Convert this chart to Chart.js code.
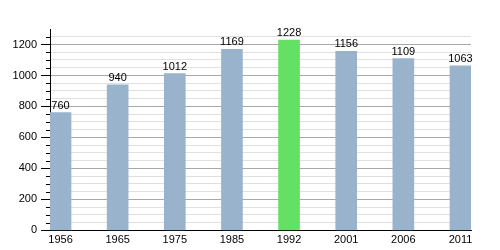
<!DOCTYPE html>
<html lang="en">
<head>
    <meta charset="UTF-8">
    <title>Population</title>
    <script src="https://cdn.jsdelivr.net/npm/chart.js"></script>
    <style>
        body { margin: 0; background: #fff; }
        .wrap { width: 500px; height: 250px; }
    </style>
</head>
<body>
    <div class="wrap"><canvas id="chart"></canvas></div>
    <script>
        const years = ['1956', '1965', '1975', '1985', '1992', '2001', '2006', '2011'];
        const population = [760, 940, 1012, 1169, 1228, 1156, 1109, 1063];
        const highlightYear = '1992';

        const barColor = '#9ab3cd';
        const highlightColor = '#64e064';

        // value labels on top of each bar
        const valueLabels = {
            id: 'valueLabels',
            afterDatasetsDraw(chart) {
                const ctx = chart.ctx;
                const meta = chart.getDatasetMeta(0);
                ctx.save();
                ctx.font = '11px "Liberation Sans", Arial, sans-serif';
                ctx.fillStyle = '#000';
                ctx.textAlign = 'center';
                ctx.textBaseline = 'alphabetic';
                meta.data.forEach((bar, i) => {
                    ctx.fillText(population[i], bar.x, bar.y - 4);
                });
                ctx.restore();
            }
        };

        // tick marks on the y axis: long at labelled values, short otherwise
        const yTicks = {
            id: 'yTicks',
            afterDraw(chart) {
                const scale = chart.scales.y;
                const ctx = chart.ctx;
                ctx.save();
                ctx.strokeStyle = '#000';
                ctx.lineWidth = 1;
                scale.ticks.forEach(t => {
                    if (t.value > 1250) return;
                    const y = Math.round(scale.getPixelForValue(t.value)) + 0.5;
                    const len = t.value % 200 === 0 ? 9 : 4;
                    ctx.beginPath();
                    ctx.moveTo(scale.right - len, y);
                    ctx.lineTo(scale.right, y);
                    ctx.stroke();
                });
                ctx.restore();
            }
        };

        new Chart(document.getElementById('chart'), {
            type: 'bar',
            data: {
                datasets: [{
                    data: population.map((v, i) => ({ x: i, y: v })),
                    backgroundColor: years.map(y => y === highlightYear ? highlightColor : barColor),
                    barThickness: 21
                }]
            },
            options: {
                responsive: true,
                maintainAspectRatio: false,
                animation: false,
                layout: { padding: { top: 29, right: 29, left: 0, bottom: 0 } },
                plugins: {
                    legend: { display: false },
                    tooltip: { enabled: false }
                },
                scales: {
                    x: {
                        type: 'linear',
                        offset: false,
                        min: -0.184,
                        max: 7.184,
                        afterBuildTicks: s => { s.ticks = years.map((_, i) => ({ value: i })); },
                        afterFit: s => { s.height = 18; },
                        grid: { display: false, drawTicks: false },
                        border: { display: true, color: '#000', width: 1 },
                        ticks: {
                            padding: 3,
                            maxRotation: 0,
                            color: '#000',
                            font: { family: '"Liberation Sans", Arial, sans-serif', size: 11 },
                            callback: v => years[v]
                        }
                    },
                    y: {
                        min: 0,
                        max: 1300,
                        afterFit: s => { s.width = 50; },
                        grid: {
                            drawTicks: false,
                            color: ctx => {
                                const v = ctx.tick.value;
                                if (v > 1250 || v === 0) return 'rgba(0,0,0,0)';
                                return v % 200 === 0 ? '#a8a8a8' : '#e0e0e0';
                            }
                        },
                        border: { display: true, color: '#000', width: 1 },
                        ticks: {
                            stepSize: 50,
                            autoSkip: false,
                            padding: 13,
                            color: '#000',
                            font: { family: '"Liberation Sans", Arial, sans-serif', size: 11 },
                            callback: v => (v % 200 === 0 ? v : '')
                        }
                    }
                }
            },
            plugins: [valueLabels, yTicks]
        });
    </script>
</body>
</html>
